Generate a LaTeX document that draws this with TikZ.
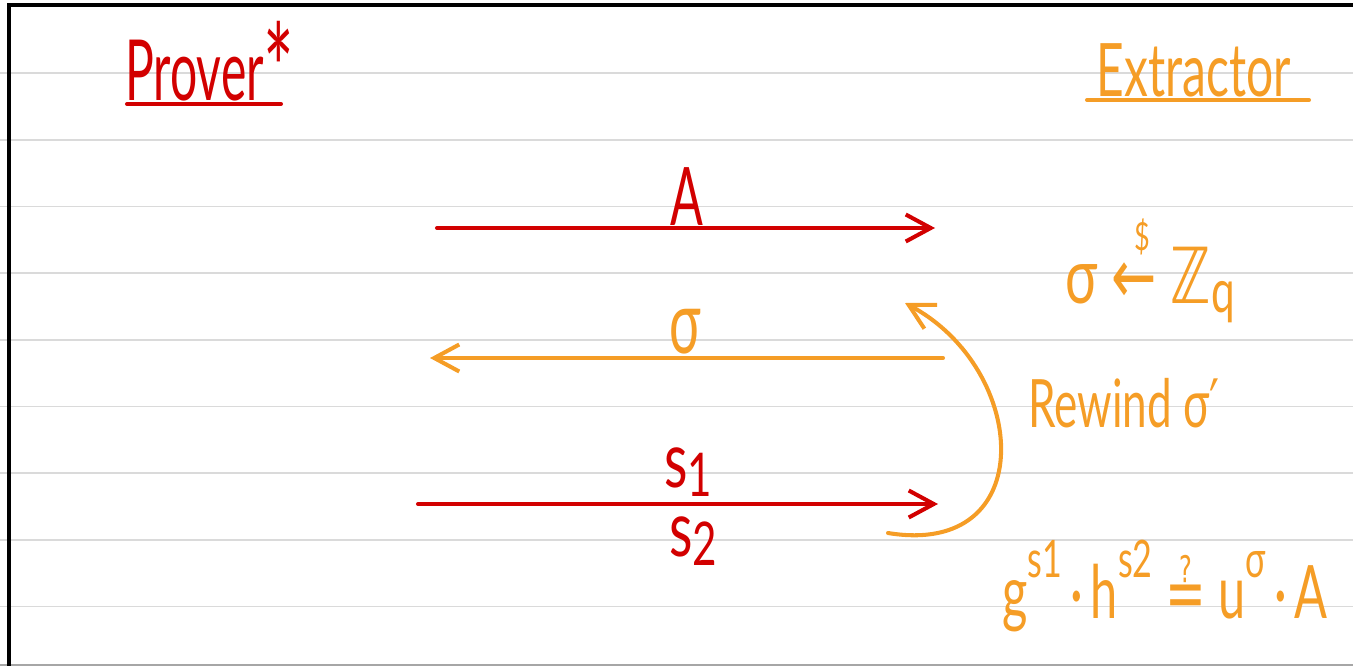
\documentclass[tikz,border=0pt]{standalone}
\usepackage{fontspec}
\setmainfont{Lato}
\newfontfamily\symfont{DejaVu Sans}
\usepackage{tikz}
\usetikzlibrary{arrows.meta}
\definecolor{penred}   {RGB}{210,   0,   0}
\definecolor{penorange}{RGB}{245, 157,  38}
\definecolor{rulegray} {RGB}{218, 218, 218}
\newcommand{\hw}[2][0.6]{\scalebox{#1}[1]{#2}}
\newcommand{\lowidx}[1]{\raisebox{-0.12em}{\scalebox{0.78}{#1}}}
\newcommand{\highidx}[1]{\raisebox{0.55em}{\scalebox{0.7}{#1}}}
\newcommand{\sampled}{\makebox[0pt][l]{\hspace{0.42em}\raisebox{0.68em}{\scalebox{0.5}{\$}}}{\symfont ←}}

\begin{document}
\begin{tikzpicture}[x=0.02cm, y=-0.02cm,
  pen/.style={line width=2.3pt, line cap=round, line join=round},
  msg/.style={pen, -{Straight Barb[length=5mm, width=5.4mm]}},
  hand/.style={inner sep=0pt, anchor=base, font=\fontsize{#1}{#1}\selectfont}]
  \useasboundingbox (0,0) rectangle (1353,666);
  % ruled paper
  \foreach \k in {0,...,8}
    \draw[rulegray, line width=1pt] (0,{73+66.7*\k}) -- (1353,{73+66.7*\k});
  \draw[gray!70, line width=1pt] (0,665) -- (1353,665);
  \draw[black, line width=2.4pt] (1353,5) -- (9,5) -- (9,666);
  % parties
  \node[hand=48pt, penred] (prover) at (210,100) {\hw[0.57]{Prover\raisebox{-0.2em}{\scalebox{1.5}{*}}}};
  \draw[pen, penred] (127,104) -- (281,104);
  \node[hand=42pt, penorange] (extractor) at (1194,96) {\hw[0.65]{Extractor}};
  \draw[pen, penorange] (1087,100) -- (1309,100);
  % messages
  \coordinate (aL) at (437,228);
  \coordinate (aR) at (935,228);
  \draw[msg, penred] (aL) -- (aR);
  \node[hand=46pt, penred] (lblA) at (687,225) {\hw{A}};
  \coordinate (cR) at (943,358);
  \coordinate (cL) at (430,358);
  \draw[msg, penorange] (cR) -- (cL);
  \node[hand=50pt, penorange] (lblC) at (685,353) {\hw{σ}};
  \coordinate (sL) at (418,504);
  \coordinate (sR) at (938,504);
  \draw[msg, penred] (sL) -- (sR);
  \node[hand=44pt, penred] (lblS1) at (688,487) {\hw[0.7]{s\lowidx{1}}};
  \node[hand=44pt, penred] (lblS2) at (693,556) {\hw[0.7]{s\lowidx{2}}};
  % rewind
  \coordinate (rwStart) at (888,533);
  \coordinate (rwEnd) at (905,303);
  \draw[msg, penorange] (rwStart) .. controls (1040,558) and (1030,370) .. (rwEnd);
  \node[hand=38pt, penorange] (rewind) at (1124,427) {\hw[0.66]{Rewind σ{\symfont ′}}};
  % extractor side
  \node[hand=44pt, penorange] (sample) at (1150,303) {\hw[0.7]{σ \sampled\ {\symfont ℤ}\lowidx{q}}};
  \node[hand=42pt, penorange] (check) at (1165,618)
    {\hw[0.66]{g\highidx{s1}\,·\,h\highidx{s2} {\symfont ≟} u\highidx{σ}\,·\,A}};
\end{tikzpicture}
\end{document}
